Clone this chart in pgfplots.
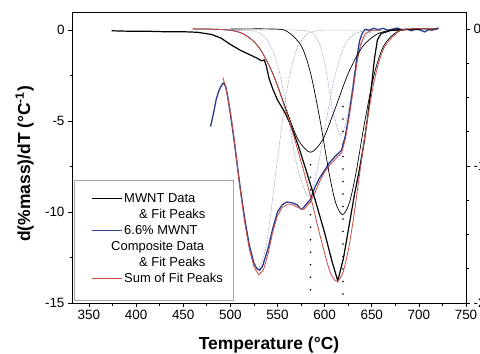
\documentclass[border=0pt]{standalone}
\usepackage{pgfplots}
\pgfplotsset{compat=1.18}
\usepackage{fontspec}
\setmainfont{Liberation Sans}
\definecolor{cblue}{HTML}{2E3A90}
\definecolor{cred}{HTML}{C84A45}
\definecolor{cfit}{HTML}{9EA4C6}
\begin{document}
\begin{tikzpicture}
\pgfplotsset{
  base/.style={
    width=394bp, height=291bp, scale only axis,
    xmin=332, xmax=750,
    tick align=outside,
    major tick length=4bp, minor tick length=2.5bp,
    every tick/.style={black, line width=0.7bp},
    axis line style={line width=0.8bp},
    /pgf/number format/assume math mode=true,
    tick label style={font=\fontsize{13.5}{16}\selectfont},
  },
  fit/.style={cfit, line width=0.5bp, dash pattern=on 2bp off 1bp, smooth},
  mfit/.style={black, line width=0.7bp, smooth},
  dots/.style={black, line width=1.8bp, line cap=round, dash pattern=on 0bp off 12.5bp},
  noimg/.style={legend image code/.code={\path (0bp,0bp) (38bp,0bp);}},
}
\begin{axis}[base,
  name=ax,
  ymin=-15, ymax=1,
  xtick={350,400,...,750}, minor x tick num=1,
  ytick={-15,-10,-5,0}, minor y tick num=1,
  xtick pos=left, ytick pos=left,
  xlabel={\bfseries Temperature (°C)},
  ylabel={\bfseries d(\%mass)/dT (°C\textsuperscript{-1})},
  label style={font=\fontsize{17.5}{20}\selectfont},
  xlabel style={at={(axis description cs:0.5,-0.145)}, anchor=center},
  ylabel style={at={(axis description cs:-0.12,0.478)}, anchor=center},
  legend cell align=left,
  legend style={at={(rel axis cs:0.005,0.0103)}, anchor=south west,
    draw=gray!70, line width=0.5bp, inner xsep=10bp, inner ysep=12bp,
    column sep=1bp, row sep=0bp,
    font=\fontsize{13}{16}\selectfont,
    nodes={inner sep=0pt, anchor=base west, text height=11.2bp, text depth=4.8bp}},
]
\addlegendimage{legend image code/.code={\path (0bp,0bp) (38bp,0bp); \draw[black, line width=1.2bp] (8bp,4.5bp) -- (38bp,4.5bp);}}
\addlegendentry{MWNT Data}
\addlegendimage{noimg}
\addlegendentry{\hspace*{15bp}\& Fit Peaks}
\addlegendimage{legend image code/.code={\path (0bp,0bp) (38bp,0bp); \draw[draw=cblue, line width=1.5bp] (8bp,4.5bp) -- (38bp,4.5bp);}}
\addlegendentry{6.6\% MWNT}
\addlegendimage{noimg}
\addlegendentry{\hspace*{-13bp}Composite Data}
\addlegendimage{noimg}
\addlegendentry{\hspace*{15bp}\& Fit Peaks}
\addlegendimage{legend image code/.code={\path (0bp,0bp) (38bp,0bp); \draw[draw=cred, line width=1bp] (8bp,4.5bp) -- (38bp,4.5bp);}}
\addlegendentry{Sum of Fit Peaks}

% composite fit peaks
\addplot[fit, forget plot] coordinates {(495,-3.0)(500,-4.3)(505,-6.2)(510,-8.3)(515,-10.2)(520,-11.8)(525,-12.8)(530,-13.1)(535,-12.5)(540,-11.2)(550,-7.1)(560,-3.3)(570,-1.1)(580,-0.27)(590,-0.05)(600,0)(640,0)};
\addplot[fit, forget plot] coordinates {(492,0)(520,-0.02)(530,-0.14)(540,-0.6)(550,-1.9)(560,-4.3)(570,-7.3)(582,-9.1)(590,-8.2)(600,-5.5)(610,-2.7)(620,-0.98)(630,-0.26)(640,-0.05)(650,0)(660,0)};
\addplot[fit, forget plot] coordinates {(492,0)(570,0)(590,-0.29)(600,-1.76)(608,-4.2)(617,-5.8)(625,-4.5)(632,-2.3)(640,-0.65)(650,-0.06)(660,0)};
% dotted peak markers
\addplot[dots, forget plot] coordinates {(585,-7.4)(585,-14.6)};
\addplot[dots, forget plot] coordinates {(619.5,-4.2)(619.5,-14.6)};
% composite data
\addplot[cblue, line width=1.3bp, forget plot] coordinates {(479,-5.3)(482,-4.6)(485,-3.8)(488,-3.3)(491,-3.0)(493,-2.9)(495,-3.1)(497,-3.6)(500,-4.6)(503,-5.7)(506,-6.9)(510,-8.5)(515,-10.3)(520,-11.8)(525,-12.8)(528,-13.1)(531,-13.2)(534,-13.0)(537,-12.5)(540,-12.0)(545,-10.9)(550,-10.0)(555,-9.6)(560,-9.45)(566,-9.5)(571,-9.6)(574,-9.8)(576,-9.85)(580,-9.6)(585,-9.3)(590,-8.6)(595,-8.1)(600,-7.7)(605,-7.3)(610,-7.0)(614,-6.8)(618,-6.6)(622,-5.8)(626,-4.6)(630,-3.2)(634,-1.6)(637,-0.6)(640,-0.15)(643,0.05)(647,0.0)(652,0.1)(657,0.03)(662,0.1)(667,0.0)(672,0.06)(677,0.12)(682,0.02)(687,0.06)(692,-0.03)(697,0.05)(702,0.0)(706,-0.1)(710,0.02)(714,0.0)(718,0.08)(721,0.12)};
% composite sum of fit peaks
\addplot[cred, line width=0.8bp, forget plot] coordinates {(492,-2.6)(495,-3.1)(500,-4.5)(505,-6.4)(510,-8.6)(515,-10.5)(520,-12.0)(525,-13.0)(530,-13.45)(535,-13.2)(540,-12.3)(545,-11.1)(550,-10.2)(555,-9.75)(560,-9.6)(566,-9.6)(572,-9.75)(578,-9.85)(585,-9.45)(590,-8.9)(595,-8.3)(600,-7.8)(605,-7.45)(612,-7.05)(618,-6.75)(622,-6.0)(626,-4.8)(630,-3.4)(634,-1.9)(638,-0.8)(643,-0.2)(650,0)(660,0)};
\end{axis}

\begin{axis}[base,
  ymin=-2, ymax=0.124,
  axis x line=none, axis y line*=right,
  ytick={-2,-1,0}, minor y tick num=3,
]
% MWNT fit peaks
\addplot[mfit] coordinates {(460,0)(480,-0.001)(500,-0.009)(515,-0.040)(530,-0.131)(545,-0.325)(560,-0.603)(572,-0.808)(585,-0.90)(598,-0.808)(610,-0.603)(625,-0.325)(640,-0.131)(655,-0.040)(670,-0.009)(690,-0.001)(720,0)};
\addplot[mfit] coordinates {(500,0)(545,0)(560,-0.017)(575,-0.12)(585,-0.32)(595,-0.66)(605,-1.061)(612,-1.274)(619,-1.355)(626,-1.274)(633,-1.061)(643,-0.66)(653,-0.32)(663,-0.12)(678,-0.017)(700,0)(720,0)};
% MWNT data
\addplot[black, line width=1.2bp] coordinates {(374,-0.013)(390,-0.016)(410,-0.016)(430,-0.020)(450,-0.020)(465,-0.024)(480,-0.040)(490,-0.066)(500,-0.113)(510,-0.153)(520,-0.186)(528,-0.212)(533,-0.232)(536,-0.226)(538,-0.266)(541,-0.359)(545,-0.438)(550,-0.518)(558,-0.611)(565,-0.717)(572,-0.850)(580,-1.023)(590,-1.248)(600,-1.487)(608,-1.700)(614,-1.839)(620,-1.673)(626,-1.434)(632,-1.195)(637,-1.023)(642,-0.823)(646,-0.624)(650,-0.398)(653,-0.212)(656,-0.080)(660,-0.033)(670,-0.011)(690,-0.003)(700,0)};
% MWNT sum of fit peaks
\addplot[cred, line width=0.8bp, smooth] coordinates {(460,0)(480,-0.001)(500,-0.009)(515,-0.040)(530,-0.131)(545,-0.325)(560,-0.620)(572,-0.894)(585,-1.22)(595,-1.504)(605,-1.758)(612,-1.839)(619,-1.786)(626,-1.582)(633,-1.268)(643,-0.766)(653,-0.367)(663,-0.139)(678,-0.021)(690,0)(720,0)};
\end{axis}
\pgfresetboundingbox
\path (-72bp,-51bp) rectangle (408bp,303bp);
\end{tikzpicture}
\end{document}
